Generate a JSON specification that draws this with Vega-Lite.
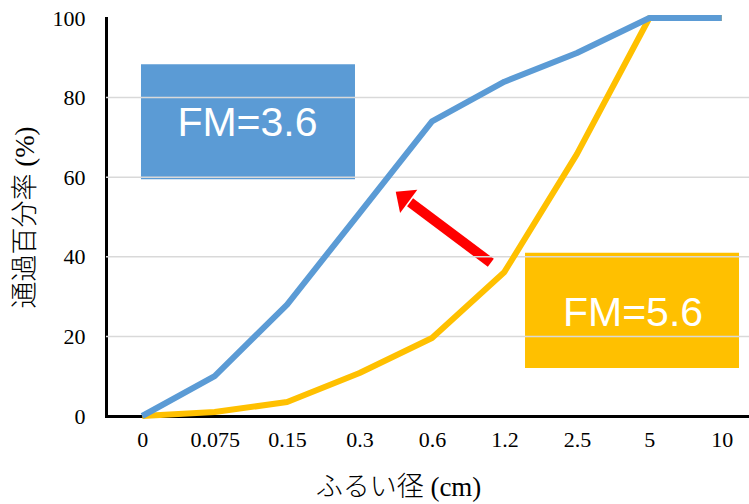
{
  "$schema": "https://vega.github.io/schema/vega-lite/v6.json",
  "width": 643,
  "height": 398,
  "autosize": {"type": "none"},
  "padding": {"left": 106, "top": 18, "right": 0, "bottom": 88},
  "background": "white",
  "config": {
    "view": {"stroke": null},
    "font": "Liberation Serif",
    "axisY": {
      "grid": false, "ticks": false, "tickSize": 0, "tickCount": 5,
      "domainColor": "black", "domainWidth": 3, "domainCap": "square",
      "labelFont": "Liberation Serif", "labelFontSize": 22, "labelColor": "black", "labelPadding": 21,
      "titleFont": "Liberation Serif, Noto Sans CJK JP", "titleFontSize": 27, "titleFontWeight": 300, "titleColor": "black",
      "titleX": -81, "titleY": 199, "titleAngle": -90, "titleAlign": "center", "titleBaseline": "middle"
    },
    "axisBottom": {
      "grid": false, "ticks": false, "tickSize": 0,
      "domainColor": "black", "domainWidth": 3, "domainCap": "square",
      "labelFont": "Liberation Serif", "labelFontSize": 22, "labelColor": "black", "labelPadding": 13, "labelAngle": 0,
      "titleFont": "Liberation Serif, Noto Sans CJK JP", "titleFontSize": 27, "titleFontWeight": 300, "titleColor": "black",
      "titleX": 292, "titleY": 71, "titleAlign": "center", "titleBaseline": "middle"
    },
    "axisTop": {
      "grid": false, "ticks": false, "labels": false,
      "domainColor": "black", "domainWidth": 3, "domainCap": "square"
    }
  },
  "datasets": {
    "grading": [
      {"sieve": "0", "series": "FM=5.6", "pct": 0},
      {"sieve": "0.075", "series": "FM=5.6", "pct": 1},
      {"sieve": "0.15", "series": "FM=5.6", "pct": 3.5},
      {"sieve": "0.3", "series": "FM=5.6", "pct": 10.8},
      {"sieve": "0.6", "series": "FM=5.6", "pct": 19.6},
      {"sieve": "1.2", "series": "FM=5.6", "pct": 36.2},
      {"sieve": "2.5", "series": "FM=5.6", "pct": 65.8},
      {"sieve": "5", "series": "FM=5.6", "pct": 100},
      {"sieve": "10", "series": "FM=5.6", "pct": 100},
      {"sieve": "0", "series": "FM=3.6", "pct": 0},
      {"sieve": "0.075", "series": "FM=3.6", "pct": 10},
      {"sieve": "0.15", "series": "FM=3.6", "pct": 28},
      {"sieve": "0.3", "series": "FM=3.6", "pct": 51},
      {"sieve": "0.6", "series": "FM=3.6", "pct": 74},
      {"sieve": "1.2", "series": "FM=3.6", "pct": 84},
      {"sieve": "2.5", "series": "FM=3.6", "pct": 91.2},
      {"sieve": "5", "series": "FM=3.6", "pct": 100},
      {"sieve": "10", "series": "FM=3.6", "pct": 100}
    ],
    "labels": [
      {"label": "FM=3.6", "x0": 0.483, "x1": 3.437, "y0": 59.5, "y1": 88.4, "tx": 1.953, "ty": 70.35, "fill": "#5b9bd5"},
      {"label": "FM=5.6", "x0": 5.784, "x1": 8.738, "y0": 12.06, "y1": 41.0, "tx": 7.275, "ty": 22.6, "fill": "#ffc000"}
    ],
    "arrow": [
      {"xs": 5.312, "ys": 38.5, "xe": 4.197, "ye": 53.7, "hx": 4.089, "hy": 55.15, "angle": 306.8}
    ],
    "gridlines": [
      {"g": 20}, {"g": 40}, {"g": 60}, {"g": 80}
    ]
  },
  "layer": [
    {
      "data": {"name": "labels"},
      "mark": {"type": "rect"},
      "encoding": {
        "x": {"field": "x0", "type": "quantitative", "scale": {"domain": [0, 9], "range": [0, 652], "nice": false, "zero": false}, "axis": null},
        "x2": {"field": "x1"},
        "y": {"field": "y0", "type": "quantitative", "title": "通過百分率 (%)"},
        "y2": {"field": "y1"},
        "color": {"field": "fill", "type": "nominal", "scale": null}
      }
    },
    {
      "data": {"name": "arrow"},
      "layer": [
        {
          "mark": {"type": "rule", "color": "#ff0000", "strokeWidth": 10, "strokeCap": "butt"},
          "encoding": {
            "x": {"field": "xs", "type": "quantitative", "scale": {"domain": [0, 9], "range": [0, 652], "nice": false, "zero": false}, "axis": {"orient": "top", "title": null}},
            "x2": {"field": "xe"},
            "y": {"field": "ys", "type": "quantitative", "title": "通過百分率 (%)"},
            "y2": {"field": "ye"}
          }
        },
        {
          "mark": {"type": "point", "shape": "M0,-0.5625L1,0.5625L-1,0.5625Z", "size": 829, "filled": true, "color": "#ff0000", "opacity": 1, "strokeWidth": 0},
          "encoding": {
            "x": {"field": "hx", "type": "quantitative", "axis": null},
            "y": {"field": "hy", "type": "quantitative", "title": "通過百分率 (%)"},
            "angle": {"field": "angle", "type": "quantitative", "scale": null}
          }
        }
      ]
    },
    {
      "layer": [
        {
          "data": {"name": "gridlines"},
          "mark": {"type": "rule", "color": "#d9d9d9", "strokeWidth": 1.5},
          "encoding": {
            "y": {"field": "g", "type": "quantitative", "title": "通過百分率 (%)"}
          }
        },
        {
          "data": {"name": "grading"},
          "transform": [{"filter": "datum.series === 'FM=5.6'"}],
          "mark": {"type": "line", "color": "#ffc000", "strokeWidth": 6, "strokeJoin": "round", "strokeCap": "butt"},
          "encoding": {
            "x": {"field": "sieve", "type": "ordinal", "title": "ふるい径 (cm)", "sort": null,
                  "scale": {"type": "point", "padding": 0.5, "range": [0, 652], "domain": ["0", "0.075", "0.15", "0.3", "0.6", "1.2", "2.5", "5", "10"]}},
            "y": {"field": "pct", "type": "quantitative", "title": "通過百分率 (%)", "scale": {"domain": [0, 100], "nice": false}}
          }
        },
        {
          "data": {"name": "grading"},
          "transform": [{"filter": "datum.series === 'FM=3.6'"}],
          "mark": {"type": "line", "color": "#5b9bd5", "strokeWidth": 6, "strokeJoin": "round", "strokeCap": "butt"},
          "encoding": {
            "x": {"field": "sieve", "type": "ordinal", "title": "ふるい径 (cm)", "sort": null},
            "y": {"field": "pct", "type": "quantitative", "title": "通過百分率 (%)"}
          }
        }
      ]
    },
    {
      "data": {"name": "labels"},
      "mark": {"type": "text", "font": "Liberation Sans", "fontSize": 41, "color": "white", "align": "center", "baseline": "alphabetic"},
      "encoding": {
        "x": {"field": "tx", "type": "quantitative", "scale": {"domain": [0, 9], "range": [0, 652], "nice": false, "zero": false}, "axis": null},
        "y": {"field": "ty", "type": "quantitative", "title": "通過百分率 (%)"},
        "text": {"field": "label"}
      }
    }
  ],
  "resolve": {"scale": {"x": "independent"}, "axis": {"x": "independent"}}
}
